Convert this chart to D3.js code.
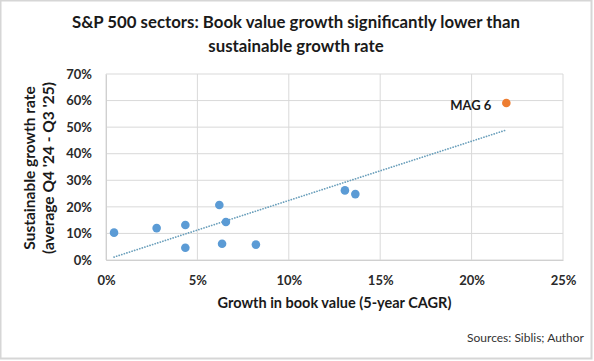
<!DOCTYPE html>
<html>
<head>
<meta charset="utf-8">
<script src="https://cdn.jsdelivr.net/npm/d3@7"></script>
<style>
  body { margin: 0; background: #fff; }
  svg { display: block; font-family: Lato, "Open Sans", sans-serif; }
</style>
</head>
<body>
<div id="canvas"></div>
<script>
// sector points: book value growth (5y CAGR, %) vs sustainable growth rate (%)
var bookGrowth = [0.44, 2.77, 4.34, 4.34, 6.2, 6.56, 6.35, 8.2, 13.07, 13.64]
var sgr = [10.3, 12.0, 13.2, 4.6, 20.7, 14.3, 6.1, 5.8, 26.2, 24.8]
var mag6 = {label: 'MAG 6', x: 21.9, y: 59.1}
var xTicks = [0, 5, 10, 15, 20, 25]
var yTicks = [0, 10, 20, 30, 40, 50, 60, 70]

var W = 594, H = 361
var margin = {top: 74, right: 31, bottom: 101, left: 106}
var width = W - margin.left - margin.right,
  height = H - margin.top - margin.bottom

var svg = d3.select('#canvas')
  .append('svg')
    .attr('width', W)
    .attr('height', H)

// outer frame
svg.append('rect')
  .attr('x', 0.5).attr('y', 0.5)
  .attr('width', W - 3).attr('height', H - 3)
  .attr('fill', '#fff')
  .attr('stroke', '#d6d6d6')
  .attr('stroke-width', 2)

svg.append('text')
  .attr('x', 296).attr('y', 28)
  .attr('text-anchor', 'middle')
  .attr('font-size', 16.8).attr('font-weight', 'bold').attr('fill', '#1a1a1a')
  .text('S&P 500 sectors:  Book value growth significantly lower than')
svg.append('text')
  .attr('x', 296).attr('y', 52)
  .attr('text-anchor', 'middle')
  .attr('font-size', 16.8).attr('font-weight', 'bold').attr('fill', '#1a1a1a')
  .text('sustainable growth rate')

var g = svg.append('g')
  .attr('transform', 'translate(' + margin.left + ',' + margin.top + ')')

var x = d3.scaleLinear().domain([0, 25]).range([0, width])
var y = d3.scaleLinear().domain([0, 70]).range([height, 0])

// gridlines
g.selectAll('.hgrid')
  .data(yTicks)
  .enter()
  .append('line')
    .attr('x1', 0).attr('x2', width)
    .attr('y1', d => y(d)).attr('y2', d => y(d))
    .attr('stroke', '#d9d9d9')
g.selectAll('.vgrid')
  .data(xTicks)
  .enter()
  .append('line')
    .attr('y1', 0).attr('y2', height)
    .attr('x1', d => x(d)).attr('x2', d => x(d))
    .attr('stroke', '#d9d9d9')

var xAxis = g.append('g')
  .attr('transform', 'translate(0,' + height + ')')
  .call(d3.axisBottom(x).tickValues(xTicks).tickSize(0).tickPadding(16).tickFormat(d => d + '%'))
var yAxis = g.append('g')
  .call(d3.axisLeft(y).tickValues(yTicks).tickSize(0).tickPadding(14).tickFormat(d => d + '%'))
;[xAxis, yAxis].forEach(a => {
  a.select('.domain').attr('stroke', '#d0d0d0')
  a.selectAll('text')
    .attr('font-family', 'Lato, sans-serif')
    .attr('font-size', 13).attr('font-weight', 'bold').attr('fill', '#2a2a2a')
})

// linear trendline over all points
var allX = bookGrowth.concat([mag6.x]), allY = sgr.concat([mag6.y])
var mx = d3.mean(allX), my = d3.mean(allY)
var slope = d3.sum(allX, (v, i) => (v - mx) * (allY[i] - my)) / d3.sum(allX, v => (v - mx) * (v - mx))
var icpt = my - slope * mx
var ext = d3.extent(allX)
g.append('line')
  .attr('x1', x(ext[0])).attr('y1', y(icpt + slope * ext[0]))
  .attr('x2', x(ext[1])).attr('y2', y(icpt + slope * ext[1]))
  .attr('stroke', '#6a9fbb')
  .attr('stroke-width', 1.7)
  .attr('stroke-linecap', 'round')
  .attr('stroke-dasharray', '0.1,2.6')

g.selectAll('circle.sector')
  .data(bookGrowth)
  .enter()
  .append('circle')
    .attr('class', 'sector')
    .attr('cx', d => x(d))
    .attr('cy', (d, i) => y(sgr[i]))
    .attr('r', 4.3)
    .attr('fill', '#5b9bd5')

g.append('circle')
  .attr('cx', x(mag6.x)).attr('cy', y(mag6.y))
  .attr('r', 4.3)
  .attr('fill', '#ed7d31')
g.append('text')
  .attr('x', x(mag6.x) - 15).attr('y', y(mag6.y) + 7)
  .attr('text-anchor', 'end')
  .attr('font-size', 13).attr('font-weight', 'bold').attr('fill', '#1a1a1a')
  .text(mag6.label)

svg.append('text')
  .attr('x', margin.left + width / 2).attr('y', 308)
  .attr('text-anchor', 'middle')
  .attr('font-size', 14.5).attr('font-weight', 'bold').attr('fill', '#1a1a1a')
  .text('Growth in book value (5-year CAGR)')

var yt = svg.append('text')
  .attr('transform', 'translate(35,168) rotate(-90)')
  .attr('text-anchor', 'middle')
  .attr('font-size', 15.5).attr('font-weight', 'bold').attr('fill', '#1a1a1a')
yt.append('tspan').attr('x', 0).attr('y', 0).text('Sustainable growth rate')
yt.append('tspan').attr('x', 0).attr('y', 18.5).text("(average Q4 '24 - Q3 '25)")

svg.append('text')
  .attr('x', 584).attr('y', 342)
  .attr('text-anchor', 'end')
  .attr('font-size', 12).attr('fill', '#333')
  .text('Sources: Siblis; Author')
</script>
</body>
</html>
